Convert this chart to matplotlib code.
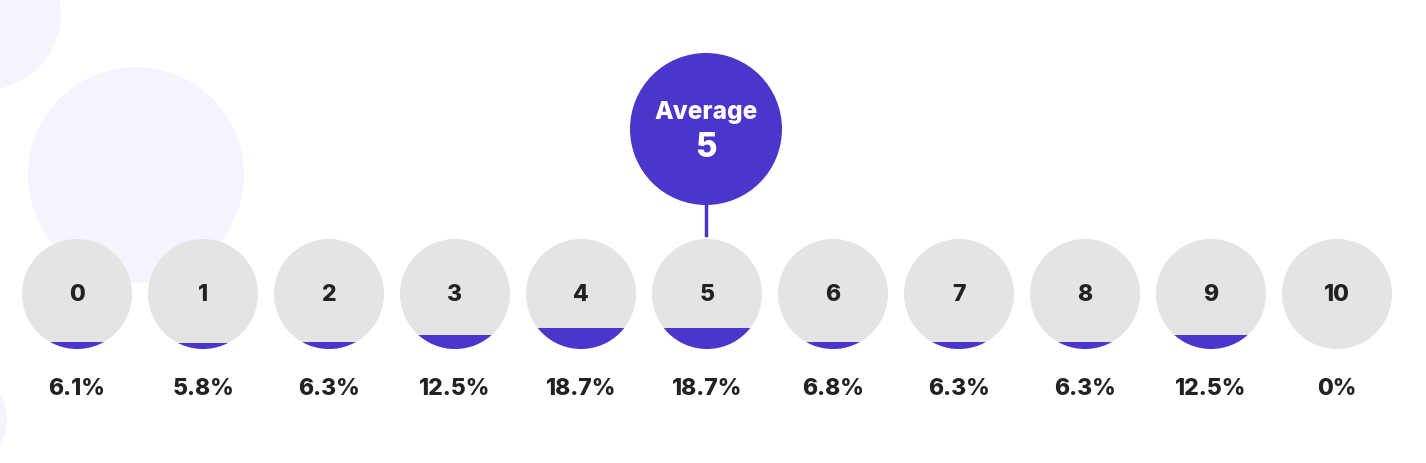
import matplotlib.pyplot as plt
from matplotlib.patches import Circle, Rectangle

# donnees
scores = ["0", "1", "2", "3", "4", "5", "6", "7", "8", "9", "10"]
percents = [6.1, 5.8, 6.3, 12.5, 18.7, 18.7, 6.8, 6.3, 6.3, 12.5, 0.0]
average = 5

purple = "#4B36CC"
grey = "#E4E4E4"
lavender = "#F5F4FC"
dark = "#222222"

plt.rcParams['font.family'] = ['Inter', 'DejaVu Sans']

W, H = 1426, 464
fig = plt.figure(figsize=(W / 100, H / 100), dpi=100)
ax = fig.add_axes([0, 0, 1, 1])
ax.set_xlim(0, W)
ax.set_ylim(H, 0)
ax.set_aspect('equal')
ax.axis('off')

# cercles decoratifs
for (cx, cy, r) in [(-15, 15, 76), (136, 176, 108), (-45, 420, 52)]:
    ax.add_patch(Circle((cx, cy), r, color=lavender, lw=0, zorder=0))

x0, step, cy, r = 77, 126, 295, 55

for i, (lab, p) in enumerate(zip(scores, percents)):
    cx = x0 + i * step
    c = Circle((cx, cy), r, color=grey, lw=0, zorder=2)
    ax.add_patch(c)
    h = p / 100 * 2 * r
    if h > 0:
        rect = Rectangle((cx - r, cy + r - h), 2 * r, h, color=purple, lw=0, zorder=3)
        ax.add_patch(rect)
        rect.set_clip_path(c)
    ax.text(cx, cy, lab, ha='center', va='center', fontsize=16.5,
            fontweight='heavy', color=dark, zorder=4)
    pct = f"{p:g}%"
    ax.text(cx, 389, pct, ha='center', va='center', fontsize=16.5,
            fontweight='heavy', color=dark, zorder=4)

# bulle moyenne
ax_x = x0 + scores.index(str(average)) * step - 1
ax.add_patch(Circle((ax_x, 130), 76, color=purple, lw=0, zorder=2))
ax.plot([ax_x, ax_x], [205, 236], color=purple, lw=2.5, zorder=1)
ax.text(ax_x, 112, "Average", ha='center', va='center', fontsize=17.5,
        fontweight='heavy', color='white', zorder=4)
ax.text(ax_x, 148, str(average), ha='center', va='center', fontsize=24,
        fontweight='heavy', color='white', zorder=4)

fig.savefig("out.png", dpi=100)
